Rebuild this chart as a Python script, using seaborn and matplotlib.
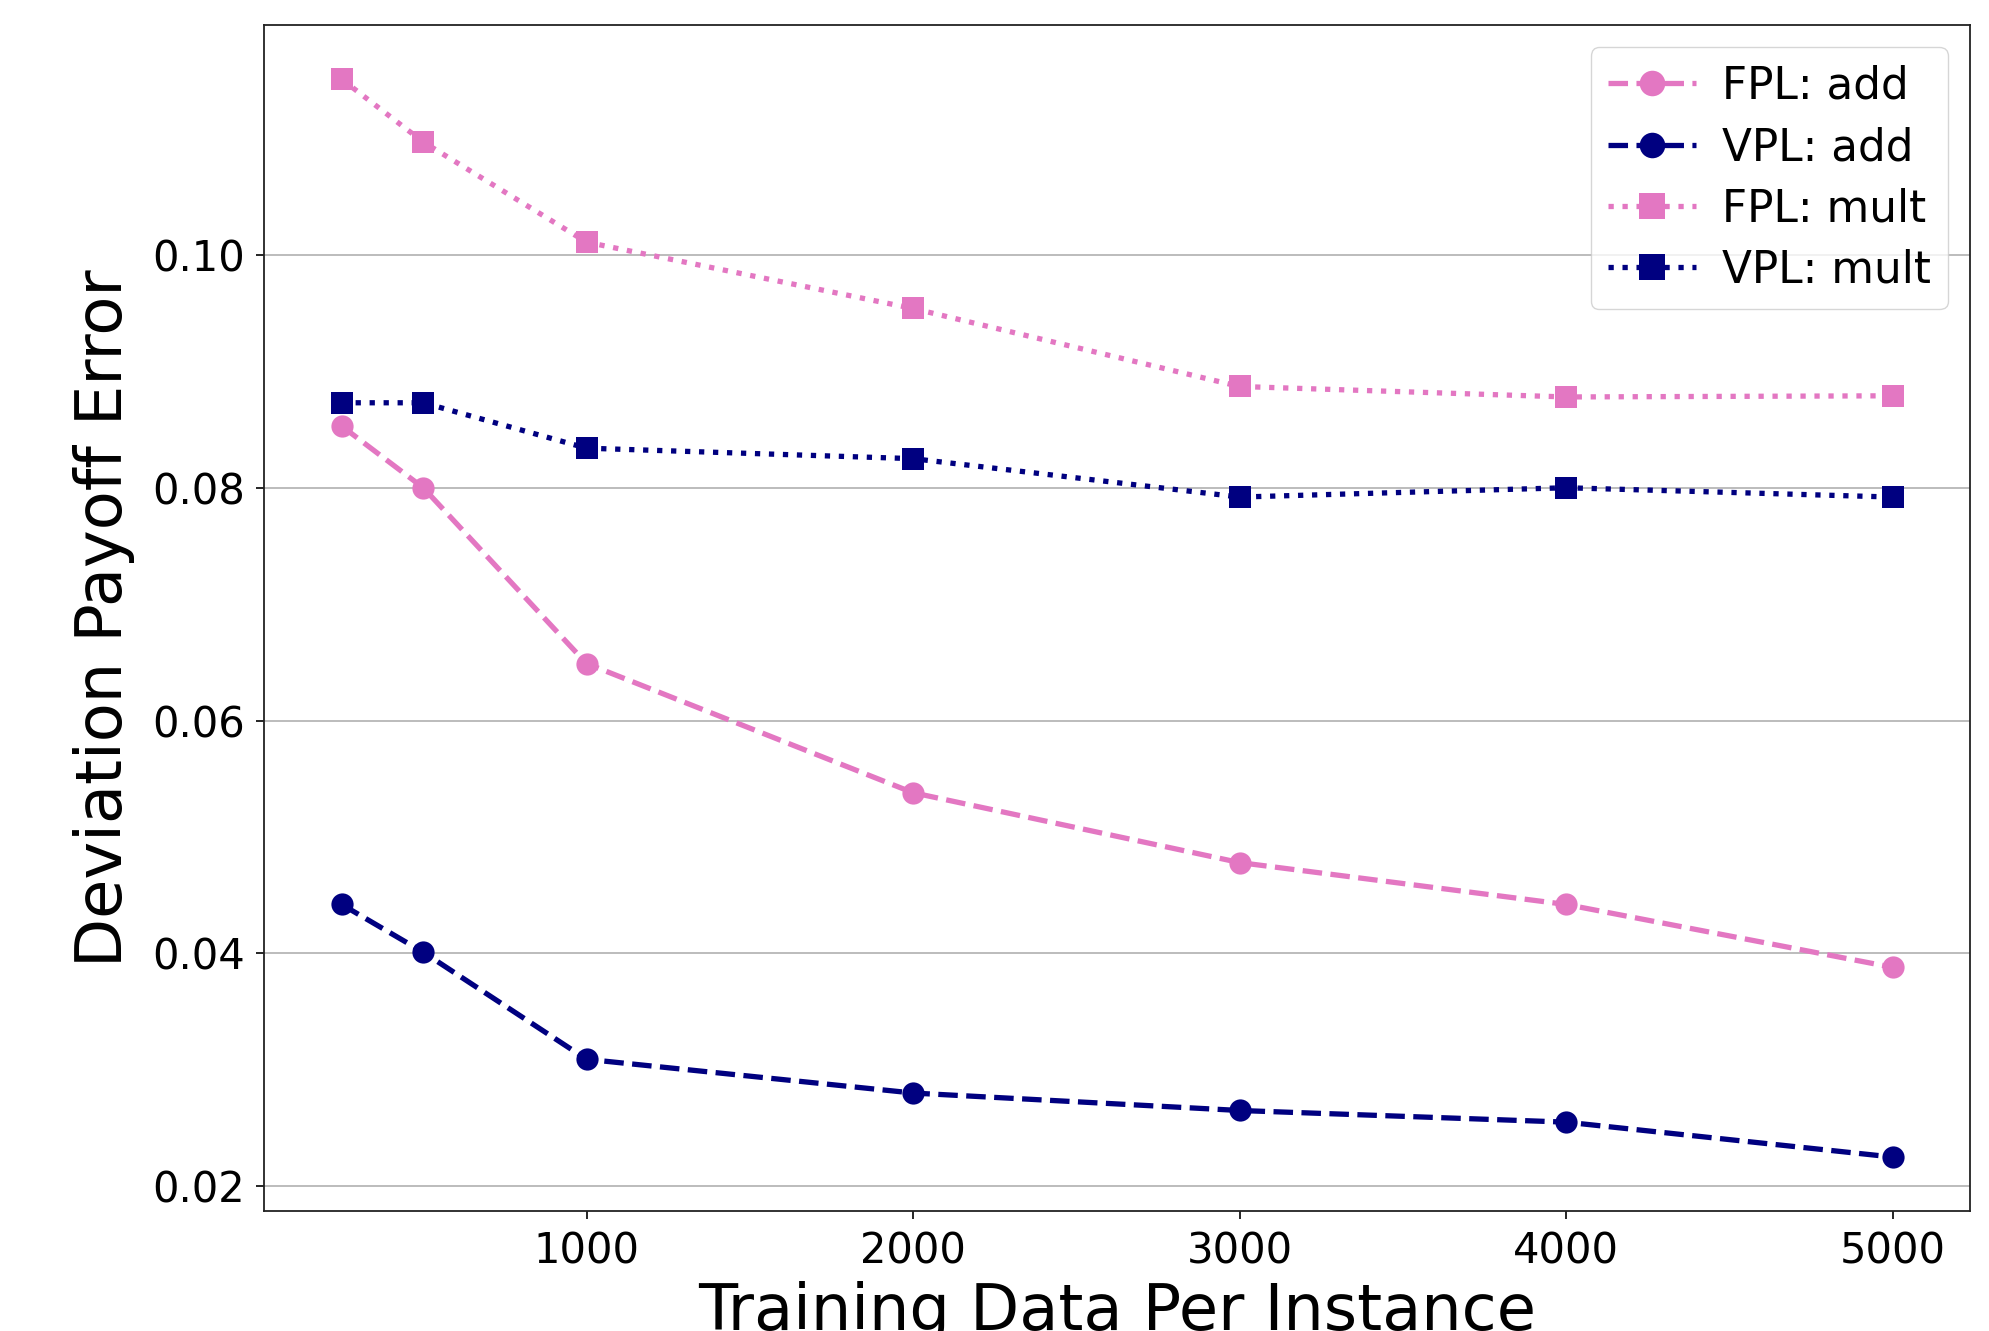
import matplotlib
matplotlib.use("Agg")
import matplotlib.pyplot as plt
import pandas as pd
import seaborn as sns

# training data sizes
train_sizes = [250, 500, 1000, 2000, 3000, 4000, 5000]

# deviation payoff error per method
fpl_add = [0.0853, 0.0800, 0.0649, 0.0538, 0.0478, 0.0442, 0.0388]
vpl_add = [0.0442, 0.0401, 0.0309, 0.0280, 0.0265, 0.0255, 0.0225]
fpl_mult = [0.1151, 0.1097, 0.1011, 0.0954, 0.0887, 0.0878, 0.0879]
vpl_mult = [0.0873, 0.0873, 0.0834, 0.0825, 0.0792, 0.0800, 0.0792]

series = [
    ("FPL: add", fpl_add, "#e377c2", "--", "o"),
    ("VPL: add", vpl_add, "navy", "--", "o"),
    ("FPL: mult", fpl_mult, "#e377c2", ":", "s"),
    ("VPL: mult", vpl_mult, "navy", ":", "s"),
]

sns.set_style("ticks")
plt.rcParams["font.family"] = ["DejaVu Sans"]
plt.rcParams["text.color"] = "black"
plt.rcParams["axes.labelcolor"] = "black"
plt.rcParams["xtick.color"] = "black"
plt.rcParams["ytick.color"] = "black"

fig = plt.figure(figsize=(19.9, 13.31), dpi=100)
ax = fig.add_axes([0.1327, 0.0902, 0.8573, 0.8908])

for name, vals, color, ls, mk in series:
    df = pd.DataFrame({"size": train_sizes, "err": vals})
    sns.lineplot(
        data=df, x="size", y="err", ax=ax,
        color=color, linestyle=ls, marker=mk,
        linewidth=3.8, markersize=16, markeredgewidth=0,
        label=name,
    )

ax.set_xticks([1000, 2000, 3000, 4000, 5000])
ax.set_yticks([0.02, 0.04, 0.06, 0.08, 0.10])
ax.yaxis.grid(True, color="#b0b0b0", linewidth=1.2)
ax.set_axisbelow(True)
for sp in ax.spines.values():
    sp.set_visible(True)
    sp.set_color("#222222")
    sp.set_linewidth(1.3)
ax.tick_params(labelsize=30, length=6, width=1.2, pad=8)
ax.set_xlabel("Training Data Per Instance", fontsize=46, labelpad=6)
ax.set_ylabel("Deviation Payoff Error", fontsize=46, labelpad=12)

ax.legend(loc="upper right", fontsize=31.5, frameon=True, framealpha=0.8,
          borderpad=0.4, handlelength=2.0, labelspacing=0.42, handletextpad=0.6,
          markerscale=1.15)

fig.savefig("out.png", dpi=100)
